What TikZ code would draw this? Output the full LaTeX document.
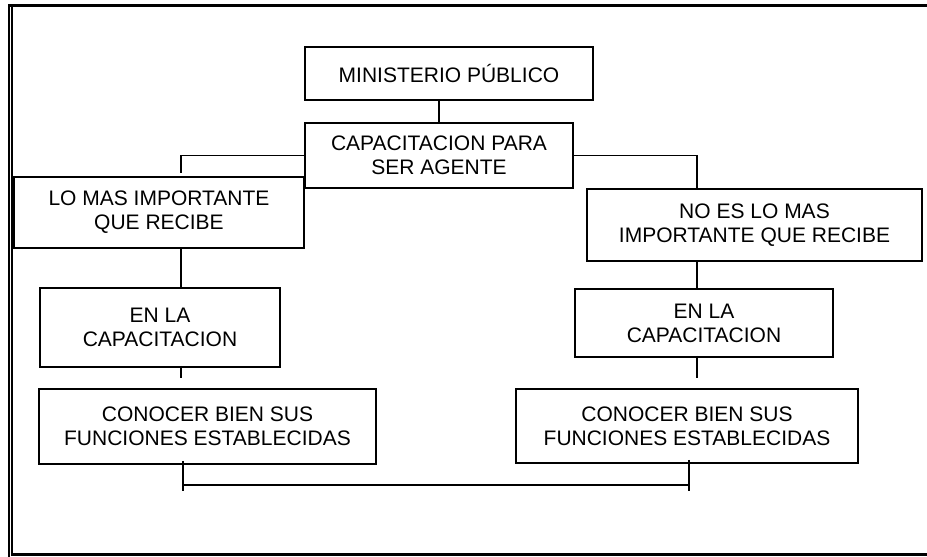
\documentclass[tikz,border=0pt]{standalone}
\usepackage{fontspec}
\setmainfont{Liberation Sans}
\usepackage{tikz}

\begin{document}
\begin{tikzpicture}[x=1pt, y=-1pt, line cap=butt, line join=miter,
    caja/.style={draw, line width=1.6pt, align=center, inner sep=0pt,
                 font=\fontsize{21}{24}\selectfont},
    enlace/.style={line width=1.4pt}]

  %% ==== marco ====
  \draw[line width=3.0pt] (8,5.5) -- (927,5.5);
  \draw[line width=2.0pt] (9,4) -- (9,557);
  \draw[line width=1.2pt] (12,7) -- (12,554);
  \draw[line width=2.4pt] (11,554.5) -- (927,554.5);

  %% ==== cajas ====
  \node[caja, minimum width=288pt, minimum height=53pt] (mp)    at (449,73.5)  {MINISTERIO PÚBLICO};
  \node[caja, minimum width=268pt, minimum height=65pt] (cap)   at (439,155.5) {CAPACITACION PARA\\SER AGENTE};
  \node[caja, minimum width=290pt, minimum height=71pt] (lomas) at (159,212.5) {LO MAS IMPORTANTE\\QUE RECIBE};
  \node[caja, minimum width=335pt, minimum height=72pt] (noes)  at (754.5,225) {NO ES LO MAS\\IMPORTANTE QUE RECIBE};
  \node[caja, minimum width=240pt, minimum height=79pt] (enla1) at (160,327.5) {EN LA\\CAPACITACION};
  \node[caja, minimum width=258pt, minimum height=68pt] (enla2) at (704,323)   {EN LA\\CAPACITACION};
  \node[caja, minimum width=337pt, minimum height=75pt] (con1)  at (207.5,426.5) {CONOCER BIEN SUS\\FUNCIONES ESTABLECIDAS};
  \node[caja, minimum width=342pt, minimum height=74pt] (con2)  at (687,426)   {CONOCER BIEN SUS\\FUNCIONES ESTABLECIDAS};

  %% ==== columnas de los enlaces ====
  \coordinate (colA) at (181,0);
  \coordinate (colB) at (697,0);
  \coordinate (bar1) at (183,485);
  \coordinate (bar2) at (689,485);

  %% ==== enlaces ====
  \draw[enlace] (cap.north) -- (cap.north |- mp.south);
  \draw[enlace] (cap.west) -| ([yshift=3pt]lomas.north -| colA);
  \draw[enlace] (cap.east) -| (noes.north -| colB);
  \draw[enlace] (lomas.south -| colA) -- (enla1.north -| colA);
  \draw[enlace] (noes.south -| colB) -- (enla2.north -| colB);
  \draw[enlace] ([yshift=2pt]enla1.south -| colA) -- ([yshift=10pt]con1.north -| colA);
  \draw[enlace] ([yshift=2pt]enla2.south -| colB) -- ([yshift=10pt]con2.north -| colB);
  \draw[enlace] ([yshift=4pt]con1.south -| bar1) -- ([yshift=-6pt]bar1);
  \draw[enlace] ([yshift=4pt]con2.south -| bar2) -- ([yshift=-6pt]bar2);
  \draw[enlace] (bar1) -- (bar2);

  \pgfresetboundingbox
  \path[use as bounding box] (0,0) rectangle (927,557);
\end{tikzpicture}
\end{document}
